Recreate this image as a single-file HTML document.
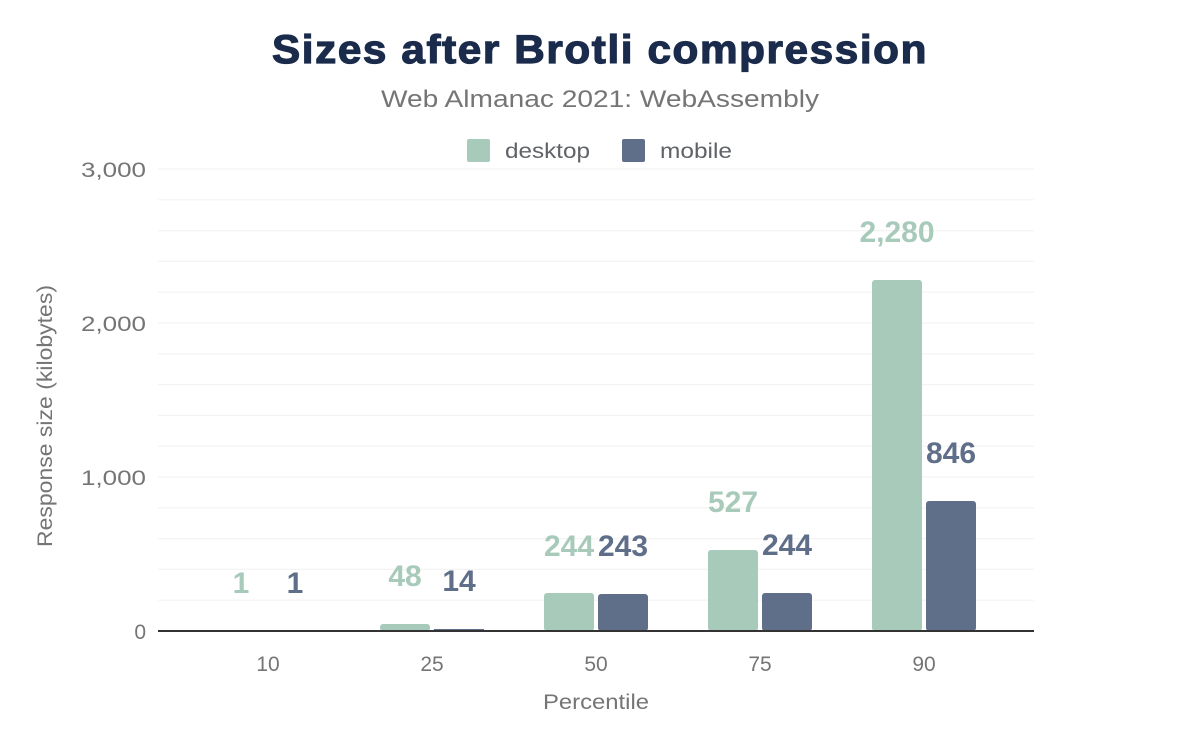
<!DOCTYPE html>
<html><head><style>body{margin:0;background:#fff}</style></head><body>
<svg width="1200" height="742" xmlns="http://www.w3.org/2000/svg" font-family="Liberation Sans, Arial, sans-serif">
<text x="600" y="63" text-anchor="middle" font-size="40" font-weight="bold" fill="#1a2b4b" stroke="#1a2b4b" stroke-width="1.2" letter-spacing="1.5" textLength="656" lengthAdjust="spacingAndGlyphs">Sizes after Brotli compression</text>
<text x="600" y="107" text-anchor="middle" font-size="24" fill="#757575" textLength="438" lengthAdjust="spacingAndGlyphs">Web Almanac 2021: WebAssembly</text>
<rect x="467" y="139" width="23" height="23" rx="2" fill="#a8caba"/>
<text x="505" y="158" font-size="21" fill="#5f6368" textLength="85" lengthAdjust="spacingAndGlyphs">desktop</text>
<rect x="622" y="139" width="23" height="23" rx="2" fill="#5f6f8a"/>
<text x="660" y="158" font-size="21" fill="#5f6368" textLength="72" lengthAdjust="spacingAndGlyphs">mobile</text>
<g stroke="#f3f3f3" stroke-width="1.2">
<line x1="158" x2="1034" y1="169" y2="169"/><line x1="158" x2="1034" y1="199.8" y2="199.8"/><line x1="158" x2="1034" y1="230.6" y2="230.6"/><line x1="158" x2="1034" y1="261.4" y2="261.4"/><line x1="158" x2="1034" y1="292.2" y2="292.2"/><line x1="158" x2="1034" y1="323" y2="323"/><line x1="158" x2="1034" y1="353.8" y2="353.8"/><line x1="158" x2="1034" y1="384.6" y2="384.6"/><line x1="158" x2="1034" y1="415.4" y2="415.4"/><line x1="158" x2="1034" y1="446.2" y2="446.2"/><line x1="158" x2="1034" y1="477" y2="477"/><line x1="158" x2="1034" y1="507.8" y2="507.8"/><line x1="158" x2="1034" y1="538.6" y2="538.6"/><line x1="158" x2="1034" y1="569.4" y2="569.4"/><line x1="158" x2="1034" y1="600.2" y2="600.2"/>
</g>
<g font-size="21" fill="#757575" text-anchor="end">
<text x="146" y="177" textLength="65" lengthAdjust="spacingAndGlyphs">3,000</text><text x="146" y="331" textLength="65" lengthAdjust="spacingAndGlyphs">2,000</text><text x="146" y="485" textLength="65" lengthAdjust="spacingAndGlyphs">1,000</text><text x="146" y="639">0</text>
</g>
<text transform="translate(52,416) rotate(-90)" text-anchor="middle" font-size="21" fill="#757575" textLength="262" lengthAdjust="spacingAndGlyphs">Response size (kilobytes)</text>
<g fill="#a8caba">
<rect x="380" y="624" width="50" height="7" rx="3"/>
<rect x="544" y="593" width="50" height="38" rx="3"/>
<rect x="708" y="550" width="50" height="81" rx="3"/>
<rect x="872" y="280" width="50" height="351" rx="3"/>
</g>
<g fill="#5f6f8a">
<rect x="434" y="629" width="50" height="2"/>
<rect x="598" y="594" width="50" height="37" rx="3"/>
<rect x="762" y="593" width="50" height="38" rx="3"/>
<rect x="926" y="501" width="50" height="130" rx="3"/>
</g>
<line x1="158" x2="1034" y1="631" y2="631" stroke="#333" stroke-width="2"/>
<g font-size="30" font-weight="bold" text-anchor="middle">
<g fill="#a8caba">
<text x="241" y="593">1</text><text x="405" y="586">48</text><text x="569" y="556">244</text><text x="733" y="512">527</text><text x="897" y="242">2,280</text>
</g>
<g fill="#5f6f8a">
<text x="295" y="593">1</text><text x="459" y="591">14</text><text x="623" y="556">243</text><text x="787" y="555">244</text><text x="951" y="463">846</text>
</g>
</g>
<g font-size="21" fill="#757575" text-anchor="middle">
<text x="268" y="671">10</text><text x="432" y="671">25</text><text x="596" y="671">50</text><text x="760" y="671">75</text><text x="924" y="671">90</text>
</g>
<text x="596" y="709" text-anchor="middle" font-size="21" fill="#757575" textLength="106" lengthAdjust="spacingAndGlyphs">Percentile</text>
</svg>
</body></html>
